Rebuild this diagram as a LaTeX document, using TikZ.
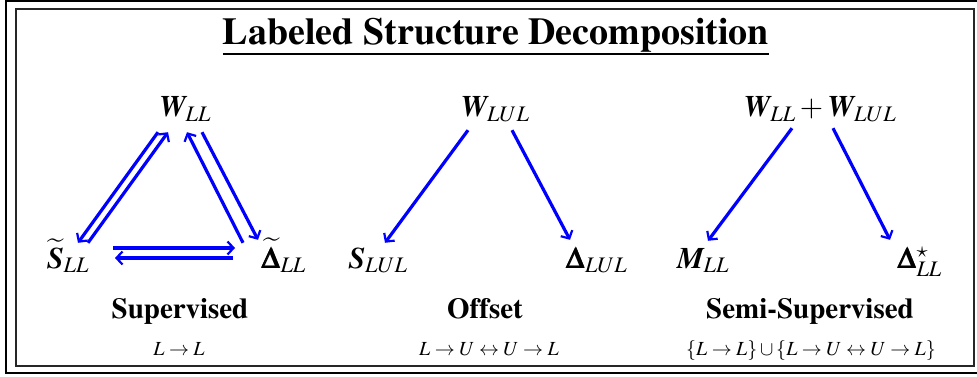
\documentclass[tikz,border=0pt]{standalone}
\usepackage[T1]{fontenc}
\usepackage{mathptmx}
\usepackage{amsmath}
\usetikzlibrary{arrows.meta}
\newcommand{\bw}[1]{\text{\bfseries\itshape #1}}
\newcommand{\bdelta}{\pmb{\Delta}}

\begin{document}
\begin{tikzpicture}[
  x=1pt, y=-1pt,
  bluearr/.style={-{Straight Barb[length=6pt, width=13pt, line width=2.2pt]}, line width=3.2pt, blue},
  lbl/.style={font=\fontsize{30}{32}\selectfont, inner sep=0pt, text height=20pt, text depth=6pt, anchor=base},
  captext/.style={font=\fontsize{29}{31}\selectfont\bfseries, inner sep=0pt, anchor=base},
  rel/.style={font=\fontsize{20}{22}\selectfont, inner sep=0pt, anchor=base},
]
\useasboundingbox (0,0) rectangle (977,377);

% Frames
\draw[line width=1.2pt] (6,1) rectangle (995,373);
\draw[line width=1.6pt, black!85] (16,9) rectangle (974,366);

% Title
\node[font=\fontsize{38}{40}\selectfont\bfseries, inner sep=0pt, text depth=9pt, anchor=base] (title) at (496,45) {Labeled Structure Decomposition};
\draw[line width=1.6pt] (title.south west) -- (title.south east);

% Supervised
\node[lbl] (wll) at (185,117) {$\bw{W}_{LL}$};
\node[lbl] (sll) at (68,268) {$\widetilde{\bw{S}}_{LL}$};
\node[lbl] (dll) at (284,268) {$\widetilde{\bdelta}_{LL}$};
\node[captext] (sup) at (180,318) {Supervised};
\node[rel] (supr) at (179,355) {$L \to L$};

\draw[bluearr] ([xshift=-27pt, yshift=-9pt]wll.south) -- ([xshift=10pt, yshift=5pt]sll.north);
\draw[bluearr] ([xshift=20pt, yshift=5pt]sll.north) -- ([xshift=-17pt, yshift=-9pt]wll.south);
\draw[bluearr] ([xshift=-41pt, yshift=5pt]dll.north) -- ([xshift=2pt, yshift=-9pt]wll.south);
\draw[bluearr] ([xshift=17pt, yshift=-9pt]wll.south) -- ([xshift=-26pt, yshift=8pt]dll.north);
\draw[bluearr] ([xshift=45pt, yshift=20pt]sll.base) -- ([xshift=-49pt, yshift=20pt]dll.base);
\draw[bluearr] ([xshift=-51pt, yshift=10pt]dll.base) -- ([xshift=47pt, yshift=10pt]sll.base);

% Offset
\node[lbl] (wlul) at (495,117) {$\bw{W}_{LUL}$};
\node[lbl] (slul) at (378,268) {$\bw{S}_{LUL}$};
\node[lbl] (dlul) at (597,268) {$\bdelta_{LUL}$};
\node[captext] (off) at (485,318) {Offset};
\node[rel] (offr) at (489,355) {$L \to U \leftrightarrow U \to L$};

\draw[bluearr] ([xshift=-27pt, yshift=-7pt]wlul.south) -- ([xshift=7pt, yshift=5pt]slul.north);
\draw[bluearr] ([xshift=17pt, yshift=-7pt]wlul.south) -- ([xshift=-27pt, yshift=8pt]dlul.north);

% Semi-Supervised
\node[lbl] (wsum) at (820,117) {$\bw{W}_{LL} + \bw{W}_{LUL}$};
\node[lbl] (mll) at (703,268) {$\bw{M}_{LL}$};
\node[lbl] (dstar) at (920,268) {$\bdelta^{\star}_{LL}$};
\node[captext] (semi) at (810,318) {Semi-Supervised};
\node[rel] (semir) at (811,355) {$\{L \to L\} \cup \{L \to U \leftrightarrow U \to L\}$};

\draw[bluearr] ([xshift=-28pt, yshift=-5pt]wsum.south) -- ([xshift=5pt, yshift=7pt]mll.north);
\draw[bluearr] ([xshift=13pt, yshift=-5pt]wsum.south) -- ([xshift=-30pt, yshift=8pt]dstar.north);
\end{tikzpicture}
\end{document}
